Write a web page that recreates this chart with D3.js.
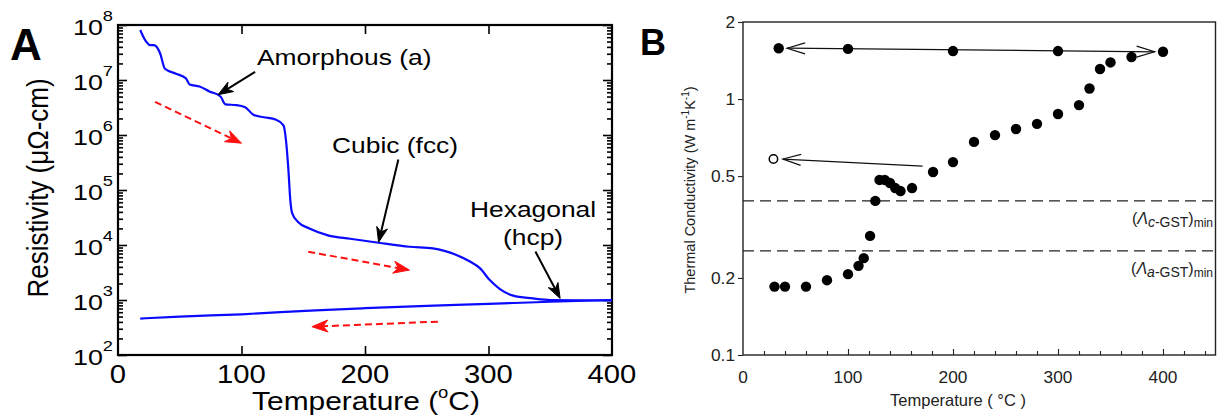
<!DOCTYPE html>
<html><head><meta charset="utf-8">
<script src="https://cdn.jsdelivr.net/npm/d3@7/dist/d3.min.js"></script>
<style>body{margin:0;background:#fff}svg{display:block}text{font-family:"Liberation Sans",Arial,sans-serif}</style>
</head><body><svg id="c" width="1217" height="419"></svg>
<script>
// ---------- Panel A data ----------
const aXTicks = [0, 100, 200, 300, 400];
const aYTickExp = [2, 3, 4, 5, 6, 7, 8];
const heatT = [18, 22, 26, 29, 34, 38, 47, 55, 58, 66, 74, 83, 87, 96, 103, 110, 118, 128, 134, 136, 138, 139.5, 141, 146, 155, 170, 188, 211, 236, 255, 274, 285, 293, 301, 309, 320, 336, 350, 400];
const heatR = [8.1e7, 5.3e7, 4.3e7, 4.3e7, 3.1e7, 1.6e7, 1.3e7, 1.07e7, 8.3e6, 7.6e6, 6.2e6, 5.0e6, 3.6e6, 3.5e6, 3.2e6, 2.3e6, 2.1e6, 1.9e6, 1.5e6, 8.1e5, 2.3e5, 6.6e4, 3.8e4, 2.6e4, 2.0e4, 1.5e4, 1.3e4, 1.1e4, 9.3e3, 8.7e3, 6.6e3, 5.0e3, 3.8e3, 2.3e3, 1.6e3, 1.2e3, 1.07e3, 1.0e3, 9.8e2];
const coolT = [18, 50, 100, 160, 200, 250, 300, 350, 400];
const coolR = [4.6e2, 5.0e2, 5.5e2, 6.5e2, 7.1e2, 7.8e2, 8.5e2, 9.3e2, 1.0e3];
const phaseLabels = ["Amorphous (a)", "Cubic (fcc)", "Hexagonal", "(hcp)"];
const blackArrowFrom = [[111, 1.4e7], [227, 3.6e5], [338, 7.6e3]];
const blackArrowTo = [[81, 5.4e6], [211, 1.12e4], [358, 1.07e3]];
const redArrowFrom = [[30, 4.0e6], [154, 7.55e3], [259, 4.04e2]];
const redArrowTo = [[100, 7.1e5], [236, 3.5e3], [157, 3.27e2]];

// ---------- Panel B data ----------
const bXTicks = [0, 100, 200, 300, 400];
const bYTicks = [0.1, 0.2, 0.5, 1, 2];
const bYTickLabels = ["0.1", "0.2", "0.5", "1", "2"];
const kHeatT = [30, 40, 60, 80, 100, 110, 115, 121, 126, 130, 135, 140, 145, 150, 161, 181, 200, 220, 240, 260, 280, 300, 320, 330, 340, 350, 370, 400];
const kHeat = [0.185, 0.185, 0.185, 0.196, 0.207, 0.223, 0.239, 0.292, 0.40, 0.483, 0.483, 0.47, 0.449, 0.437, 0.449, 0.519, 0.567, 0.68, 0.723, 0.764, 0.80, 0.874, 0.947, 1.10, 1.31, 1.39, 1.46, 1.53];
const kCoolT = [34, 100, 200, 300];
const kCool = [1.58, 1.57, 1.54, 1.54];
const kOpenT = [29];
const kOpen = [0.583];
const kMinLevels = [0.40, 0.255];
const kMinSubs = ["c", "a"];
const bArrowFrom = [[42, 1.58], [171, 0.547]];
const bArrowTo = [[392, 1.53], [38, 0.583]];

const svg = d3.select("#c");

function stext(g, x, y, str, size, anchor, sx, weight) {
  return g.append("text").attr("transform", `translate(${x},${y}) scale(${sx},1)`)
    .attr("text-anchor", anchor).attr("font-size", size)
    .attr("font-weight", weight || "normal").attr("fill", "#000").text(str);
}

function arrowHead(g, x1, y1, x2, y2, len, wid, color, open) {
  const a = Math.atan2(y2 - y1, x2 - x1);
  const bx = x2 - len * Math.cos(a), by = y2 - len * Math.sin(a);
  const px = -Math.sin(a) * wid / 2, py = Math.cos(a) * wid / 2;
  if (open) {
    g.append("path").attr("d", `M${bx + px},${by + py}L${x2},${y2}L${bx - px},${by - py}`)
      .attr("fill", "none").attr("stroke", color).attr("stroke-width", 1.2);
  } else {
    const ix = x2 - len * 0.7 * Math.cos(a), iy = y2 - len * 0.7 * Math.sin(a);
    g.append("path").attr("d", `M${x2},${y2}L${bx + px},${by + py}L${ix},${iy}L${bx - px},${by - py}Z`)
      .attr("fill", color).attr("stroke", color).attr("stroke-width", 1);
  }
}

// ================= Panel A =================
const ax = d3.scaleLinear().domain([0, 400]).range([118, 612]);
const ay = d3.scaleLog().domain([1e2, 1e8]).range([355, 25]);
const gA = svg.append("g");
const allLogTicks = ay.ticks();
const isMajor = v => Math.abs(Math.log10(v) - Math.round(Math.log10(v))) < 1e-6;

function styleAxis(sel) {
  sel.select(".domain").remove();
  sel.selectAll(".tick line").attr("stroke", "#000").attr("stroke-width", 1.6);
  sel.selectAll(".tick text").remove();
}
const leftA = gA.append("g").attr("transform", "translate(118,0)")
  .call(d3.axisRight(ay).tickValues(allLogTicks).tickSize(5).tickFormat(""));
styleAxis(leftA);
leftA.selectAll(".tick").filter(d => isMajor(d)).select("line").attr("x2", 9);
const rightA = gA.append("g").attr("transform", "translate(612,0)")
  .call(d3.axisLeft(ay).tickValues(allLogTicks).tickSize(5).tickFormat(""));
styleAxis(rightA);
rightA.selectAll(".tick").filter(d => isMajor(d)).select("line").attr("x2", -9);
const botA = gA.append("g").attr("transform", "translate(0,355)")
  .call(d3.axisTop(ax).tickValues([100, 200, 300]).tickSize(9).tickFormat(""));
styleAxis(botA);
const topA = gA.append("g").attr("transform", "translate(0,25)")
  .call(d3.axisBottom(ax).tickValues([100, 200, 300]).tickSize(9).tickFormat(""));
styleAxis(topA);
gA.append("rect").attr("x", 118).attr("y", 25).attr("width", 612 - 118).attr("height", 330)
  .attr("fill", "none").attr("stroke", "#000").attr("stroke-width", 2.2);

// tick labels
aXTicks.forEach(v => stext(gA, ax(v), 383, String(v), 25, "middle", 1.17));
aYTickExp.forEach(e => {
  const t = gA.append("text").attr("transform", `translate(113,${ay(Math.pow(10, e)) + 10}) scale(1.22,1)`)
    .attr("text-anchor", "end").attr("font-size", 22).attr("fill", "#000");
  t.append("tspan").text("10");
  t.append("tspan").attr("font-size", 15).attr("dy", -14).text(String(e));
});
// axis titles
{
  const t = gA.append("text").attr("transform", "translate(366,410) scale(1.15,1)")
    .attr("text-anchor", "middle").attr("font-size", 26).attr("fill", "#000");
  t.append("tspan").text("Temperature (");
  t.append("tspan").attr("font-size", 16).attr("dy", -12).text("o");
  t.append("tspan").attr("dy", 12).text("C)");
  gA.append("text").attr("transform", "translate(48,188) scale(1.15,1) rotate(-90)")
    .attr("text-anchor", "middle").attr("font-size", 26).attr("fill", "#000")
    .text("Resistivity (\u03bc\u03a9-cm)");
}
// curves
const lineA = d3.line().x(d => ax(d[0])).y(d => ay(d[1])).curve(d3.curveMonotoneX);
gA.append("path").datum(coolT.map((t, i) => [t, coolR[i]])).attr("d", lineA)
  .attr("fill", "none").attr("stroke", "#0a0aff").attr("stroke-width", 2.2);
gA.append("path").datum(heatT.map((t, i) => [t, heatR[i]])).attr("d", lineA)
  .attr("fill", "none").attr("stroke", "#0a0aff").attr("stroke-width", 2.2);

// red dashed arrows
redArrowFrom.forEach((f, i) => {
  const x1 = ax(f[0]), y1 = ay(f[1]), x2 = ax(redArrowTo[i][0]), y2 = ay(redArrowTo[i][1]);
  const a = Math.atan2(y2 - y1, x2 - x1);
  gA.append("line").attr("x1", x1).attr("y1", y1).attr("x2", x2 - 10 * Math.cos(a)).attr("y2", y2 - 10 * Math.sin(a))
    .attr("stroke", "#ff1010").attr("stroke-width", 2).attr("stroke-dasharray", "7,4");
  arrowHead(gA, x1, y1, x2, y2, 16, 12, "#ff1010", false);
});
// black annotation arrows
blackArrowFrom.forEach((f, i) => {
  const x1 = ax(f[0]), y1 = ay(f[1]), x2 = ax(blackArrowTo[i][0]), y2 = ay(blackArrowTo[i][1]);
  const a = Math.atan2(y2 - y1, x2 - x1);
  gA.append("line").attr("x1", x1).attr("y1", y1).attr("x2", x2 - 8 * Math.cos(a)).attr("y2", y2 - 8 * Math.sin(a))
    .attr("stroke", "#000").attr("stroke-width", 2);
  arrowHead(gA, x1, y1, x2, y2, 15, 11, "#000", false);
});
stext(gA, 257, 65, phaseLabels[0], 22, "start", 1.2);
stext(gA, 332, 153, phaseLabels[1], 22, "start", 1.2);
stext(gA, 470, 217, phaseLabels[2], 22, "start", 1.2);
stext(gA, 503, 245, phaseLabels[3], 22, "start", 1.2);
stext(gA, 10, 60, "A", 44, "start", 1, "bold");

// ================= Panel B =================
const bx = d3.scaleLinear().domain([0, 450]).range([743, 1215.5]);
const by = d3.scaleLog().domain([0.1, 2]).range([355, 22]);
const gB = svg.append("g");
const botB = gB.append("g").attr("transform", "translate(0,355)")
  .call(d3.axisTop(bx).tickValues(d3.range(20, 450, 20)).tickSize(4).tickFormat(""));
botB.select(".domain").remove();
botB.selectAll(".tick line").attr("stroke", "#222").attr("stroke-width", 1.1);
botB.selectAll(".tick").filter(d => d % 100 === 0).select("line").attr("y2", -6);
const leftB = gB.append("g").attr("transform", "translate(743,0)")
  .call(d3.axisLeft(by).tickValues(bYTicks).tickSize(5).tickFormat(""));
leftB.select(".domain").remove();
leftB.selectAll(".tick line").attr("stroke", "#222").attr("stroke-width", 1.1);
gB.append("rect").attr("x", 743).attr("y", 22).attr("width", 1215.5 - 743).attr("height", 333)
  .attr("fill", "none").attr("stroke", "#222").attr("stroke-width", 1.4);

bXTicks.forEach(v => stext(gB, bx(v), 383, String(v), 16, "middle", 1.08).attr("fill", "#222"));
bYTicks.forEach((v, i) => stext(gB, 735, by(v) + 6, bYTickLabels[i], 16, "end", 1.08).attr("fill", "#222"));
{
  const t = gB.append("text").attr("transform", "translate(958,406)")
    .attr("text-anchor", "middle").attr("font-size", 16.5).attr("fill", "#222");
  t.text("Temperature ( \u00b0C )");
  const yl = gB.append("text").attr("transform", "translate(695,190) rotate(-90)")
    .attr("text-anchor", "middle").attr("font-size", 14.5).attr("fill", "#222");
  yl.append("tspan").text("Thermal Conductivity (W m");
  yl.append("tspan").attr("font-size", 10).attr("dy", -6).text("-1");
  yl.append("tspan").attr("dy", 6).text("K");
  yl.append("tspan").attr("font-size", 10).attr("dy", -6).text("-1");
  yl.append("tspan").attr("dy", 6).text(")");
}
// dashed min lines
kMinLevels.forEach((k, i) => {
  gB.append("line").attr("x1", 743).attr("x2", 1215).attr("y1", by(k)).attr("y2", by(k))
    .attr("stroke", "#222").attr("stroke-width", 1.3).attr("stroke-dasharray", "11,6");
  const t = gB.append("text").attr("x", 1213).attr("y", by(k) + 23).attr("text-anchor", "end")
    .attr("font-size", 16).attr("fill", "#222");
  t.append("tspan").text("(");
  t.append("tspan").attr("font-style", "italic").text("\u039b");
  t.append("tspan").attr("font-style", "italic").attr("font-size", 14).attr("dy", 3).text(kMinSubs[i]);
  t.append("tspan").attr("font-size", 14).text("-GST");
  t.append("tspan").attr("dy", -3).text(")");
  t.append("tspan").attr("font-size", 12).attr("dy", 3).text("min");
});
// arrows
bArrowFrom.forEach((f, i) => {
  const x1 = bx(f[0]), y1 = by(f[1]), x2 = bx(bArrowTo[i][0]), y2 = by(bArrowTo[i][1]);
  gB.append("line").attr("x1", x1).attr("y1", y1).attr("x2", x2).attr("y2", y2)
    .attr("stroke", "#111").attr("stroke-width", 1.3);
  arrowHead(gB, x1, y1, x2, y2, 18, 11, "#111", true);
  if (i === 0) arrowHead(gB, x2, y2, x1, y1, 18, 11, "#111", true);
});
// points
gB.selectAll("circle.h").data(kHeatT.map((t, i) => [t, kHeat[i]])).join("circle")
  .attr("cx", d => bx(d[0])).attr("cy", d => by(d[1])).attr("r", 5.2).attr("fill", "#000");
gB.selectAll("circle.c").data(kCoolT.map((t, i) => [t, kCool[i]])).join("circle")
  .attr("cx", d => bx(d[0])).attr("cy", d => by(d[1])).attr("r", 5.2).attr("fill", "#000");
gB.selectAll("circle.o").data(kOpenT.map((t, i) => [t, kOpen[i]])).join("circle")
  .attr("cx", d => bx(d[0])).attr("cy", d => by(d[1])).attr("r", 4.2)
  .attr("fill", "#fff").attr("stroke", "#000").attr("stroke-width", 1.5);
stext(gB, 640, 55, "B", 36, "start", 1, "bold");
</script></body></html>
